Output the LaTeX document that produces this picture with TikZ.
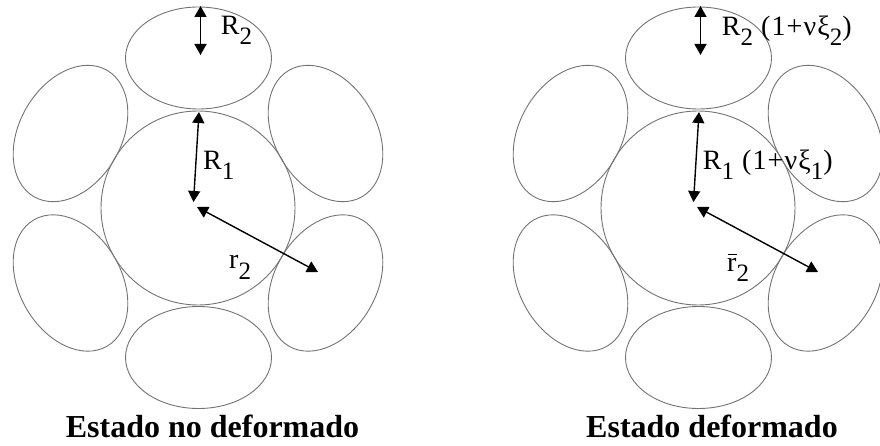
\documentclass[tikz,border=0pt]{standalone}
\usepackage{fontspec}
\setmainfont{Liberation Serif}
\usetikzlibrary{arrows.meta}
\definecolor{graingray}{RGB}{115,115,115}
\newcommand\lowsub[1]{\raisebox{-10pt}{\fontsize{25}{25}\selectfont #1}}
\begin{document}
\begin{tikzpicture}[x=1pt,y=-1pt,
  grain/.style={draw=graingray, line width=0.9pt},
  dim/.style={line width=1.4pt, {Triangle[length=11pt,width=12pt]}-{Triangle[length=11pt,width=12pt]}},
  lbl/.style={anchor=base west, inner sep=0pt, font=\fontsize{28}{28}\selectfont\addfontfeature{LetterSpace=4}},
  ttl/.style={anchor=base, inner sep=0pt, font=\fontsize{32}{32}\selectfont\bfseries}]
\useasboundingbox (0,0) rectangle (880,446);
\foreach \o/\n in {0/a,500/b}{
  \draw[grain] (198+\o,208) circle[radius=97];
  \draw[grain] (198.5+\o,58) ellipse[x radius=73,y radius=51];
  \draw[grain] (198.5+\o,357.5) ellipse[x radius=73,y radius=51];
  \draw[grain,rotate around={60:(70.5+\o,133.5)}] (70.5+\o,133.5) ellipse[x radius=73,y radius=51];
  \draw[grain,rotate around={-60:(325.5+\o,133.5)}] (325.5+\o,133.5) ellipse[x radius=73,y radius=51];
  \draw[grain,rotate around={-60:(70.5+\o,283)}] (70.5+\o,283) ellipse[x radius=73,y radius=51];
  \draw[grain,rotate around={60:(325.5+\o,283)}] (325.5+\o,283) ellipse[x radius=73,y radius=51];
  \coordinate (\n-r2t) at (200.5+\o,6);
  \coordinate (\n-r2b) at (200.5+\o,55);
  \coordinate (\n-r1t) at (199+\o,112);
  \coordinate (\n-r1b) at (193.5+\o,202);
  \coordinate (\n-rrs) at (197+\o,207);
  \coordinate (\n-rre) at (318+\o,272);
  \draw[dim] (\n-r2t) -- (\n-r2b);
  \draw[dim] (\n-r1t) -- (\n-r1b);
  \draw[dim] (\n-rrs) -- (\n-rre);
}
\node[lbl] (la-R2) at (220.7,35) {R\lowsub{2}};
\node[lbl] (la-R1) at (203,170) {R\lowsub{1}};
\node[lbl] (la-r2) at (229,269) {r\lowsub{2}};
\node[lbl] (lb-R2) at (721.7,36) {R\lowsub{2} (1+νξ\lowsub{2})};
\node[lbl] (lb-R1) at (702.7,170) {R\lowsub{1} (1+νξ\lowsub{1})};
\node[lbl] (lb-r2) at (727,271) {\makebox[0pt][l]{\hspace{0.5pt}\rule[16pt]{9pt}{1pt}}r\lowsub{2}};
\node[ttl] (ta) at (212.5,437.7) {Estado no deformado};
\node[ttl] (tb) at (712,437.7) {Estado deformado};
\end{tikzpicture}
\end{document}
